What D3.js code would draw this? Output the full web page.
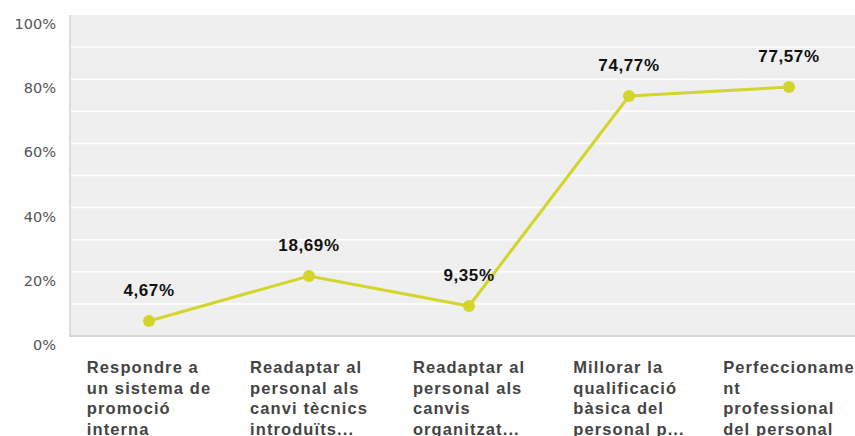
<!DOCTYPE html>
<html>
<head>
<meta charset="utf-8">
<script src="https://cdn.jsdelivr.net/npm/d3@7"></script>
<style>
  body { margin: 0; background: #fff; }
  svg { display: block; }
</style>
</head>
<body>
<div id="graph"></div>
<script>
const categories = [
  ["Respondre a", "un sistema de", "promoció", "interna"],
  ["Readaptar al", "personal als", "canvi tècnics", "introduïts..."],
  ["Readaptar al", "personal als", "canvis", "organitzat..."],
  ["Millorar la", "qualificació", "bàsica del", "personal p..."],
  ["Perfeccioname", "nt", "professional", "del personal"]
];
const values = [4.67, 18.69, 9.35, 74.77, 77.57];
const valueLabels = ["4,67%", "18,69%", "9,35%", "74,77%", "77,57%"];
const yTicks = [0, 20, 40, 60, 80, 100];
const gridTicks = [10, 20, 30, 40, 50, 60, 70, 80, 90];

const width = 855, height = 436;
const plotLeft = 70, plotTop = 15, plotBottom = 336;
const lineColor = "#d3d52b";

const svg = d3.select("#graph").append("svg")
  .attr("width", width).attr("height", height);

const ids = categories.map((c, i) => i);

const xScale = d3.scaleBand()
  .domain(ids)
  .range([69, 869]);
const cx = i => xScale(i) + xScale.bandwidth() / 2;

const yScale = d3.scaleLinear()
  .domain([0, 100])
  .range([plotBottom, plotTop]);

// plot background
svg.append("rect")
  .attr("x", plotLeft).attr("y", plotTop)
  .attr("width", width - plotLeft).attr("height", plotBottom - plotTop)
  .attr("fill", "#efefef");

// grid lines
svg.append("g").selectAll("line").data(gridTicks).enter().append("line")
  .attr("x1", plotLeft).attr("x2", width)
  .attr("y1", d => yScale(d)).attr("y2", d => yScale(d))
  .attr("stroke", "#fff").attr("stroke-width", 1.5);

// borders left and bottom
svg.append("line")
  .attr("x1", plotLeft).attr("x2", plotLeft).attr("y1", plotTop).attr("y2", plotBottom + 1)
  .attr("stroke", "#dcdcdc").attr("stroke-width", 2);
svg.append("line")
  .attr("x1", plotLeft).attr("x2", width).attr("y1", plotBottom).attr("y2", plotBottom)
  .attr("stroke", "#d6d6d6").attr("stroke-width", 2);

// y axis labels
const yAxis = d3.axisLeft(yScale).tickValues(yTicks).tickFormat(d => d + "%").tickSize(0).tickPadding(14);
const yg = svg.append("g").attr("transform", `translate(${plotLeft},0)`).call(yAxis);
yg.select(".domain").remove();
yg.selectAll("text")
  .attr("dy", "13.5")
  .style("font-family", "'DejaVu Sans', sans-serif")
  .style("font-size", "14.5px")
  .style("fill", "#555");

// line
const line = d3.line()
  .x((d, i) => cx(i))
  .y(d => yScale(d));

svg.append("path")
  .datum(values)
  .attr("d", line)
  .attr("fill", "none")
  .attr("stroke", lineColor)
  .attr("stroke-width", 3);

svg.append("g").selectAll("circle").data(values).enter().append("circle")
  .attr("cx", (d, i) => cx(i))
  .attr("cy", d => yScale(d))
  .attr("r", 6)
  .attr("fill", lineColor);

// value labels
svg.append("g").selectAll("text").data(values).enter().append("text")
  .attr("x", (d, i) => cx(i))
  .attr("y", d => yScale(d) - 25)
  .attr("text-anchor", "middle")
  .style("font-family", "'Liberation Sans', Arial, sans-serif")
  .style("font-weight", "bold")
  .style("font-size", "17px")
  .style("letter-spacing", "0.6px")
  .style("fill", "#111")
  .text((d, i) => valueLabels[i]);

// category labels: left aligned block centred on the widest line
categories.forEach((lines, i) => {
  const g = svg.append("g");
  const t = g.append("text")
    .style("font-family", "'Liberation Sans', Arial, sans-serif")
    .style("font-weight", "bold")
    .style("font-size", "16.5px")
    .style("letter-spacing", "1.1px")
    .style("fill", "#444");
  lines.forEach((l, j) => {
    t.append("tspan").attr("x", 0).attr("y", 373 + j * 20.5).text(l);
  });
  let w = 0;
  t.selectAll("tspan").each(function () { w = Math.max(w, this.getComputedTextLength()); });
  g.attr("transform", `translate(${cx(i) - w / 2},0)`);
});
</script>
</body>
</html>
